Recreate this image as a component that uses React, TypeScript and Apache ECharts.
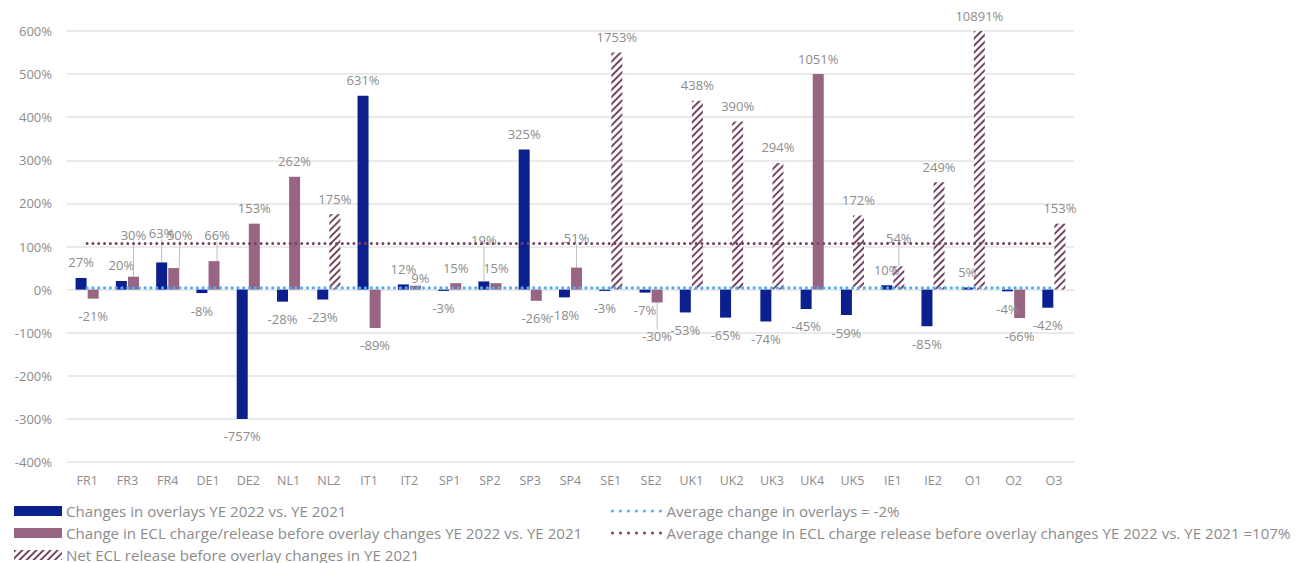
import React, { useEffect, useRef } from "react";
import * as echarts from "echarts";

const categories = ["FR1", "FR3", "FR4", "DE1", "DE2", "NL1", "NL2", "IT1", "IT2", "SP1", "SP2", "SP3", "SP4", "SE1", "SE2", "UK1", "UK2", "UK3", "UK4", "UK5", "IE1", "IE2", "O1", "O2", "O3"];

// Changes in overlays: printed labels and drawn (axis-capped) heights
const overlayLabels = [27, 20, 63, -8, -757, -28, -23, 631, 12, -3, 19, 325, -18, -3, -7, -53, -65, -74, -45, -59, 10, -85, 5, -4, -42];
const overlayBars = [27, 20, 63, -8, -300, -28, -23, 450, 12, -3, 19, 325, -18, -3, -7, -53, -65, -74, -45, -59, 10, -85, 5, -4, -42];

// Change in ECL charge/release before overlay changes
const eclLabels = [-21, 30, 50, 66, 153, 262, null, -89, 9, 15, 15, -26, 51, null, -30, null, null, null, 1051, null, null, null, null, -66, null];
const eclBars = [-21, 30, 50, 66, 153, 262, null, -89, 9, 15, 15, -26, 51, null, -30, null, null, null, 500, null, null, null, null, -66, null];

// Net ECL release before overlay changes in YE 2021
const netLabels = [null, null, null, null, null, null, 175, null, null, null, null, null, null, 1753, null, 438, 390, 294, null, 172, 54, 249, 10891, null, 153];
const netBars = [null, null, null, null, null, null, 175, null, null, null, null, null, null, 550, null, 438, 390, 294, null, 172, 54, 249, 600, null, 153];

// Average lines (drawn level)
const avgOverlay = categories.map(() => 4);
const avgEcl = categories.map(() => 107);

const seriesNames = [
  "Changes in overlays YE 2022 vs. YE 2021",
  "Change in ECL charge/release before overlay changes YE 2022 vs. YE 2021",
  "Net ECL release before overlay changes in YE 2021",
  "Average change in overlays = -2%",
  "Average change in ECL charge release before overlay changes YE 2022 vs. YE 2021 =107%",
];

// label nudges [dx, dy] (series index -> data index)
const nudges: Record<number, Record<number, [number, number]>> = {
  0: { 2: [0, -14], 10: [0, -26] },
  1: { 1: [0, -26], 2: [6, -18], 3: [3, -11], 8: [5, 8], 12: [0, -14], 14: [0, 16] },
  2: { 20: [0, -13] },
};

const FONT = "'Open Sans', Roboto, sans-serif";
const GREY = "#8c8c8c";

function items(bars: (number | null)[], labels: (number | null)[], s: number) {
  return bars.map((v, i) => {
    if (v == null) return null;
    const pos = v >= 0;
    return {
      value: v,
      label: {
        position: pos ? "top" : "bottom",
        distance: pos ? 9 : 11,
        formatter: `${labels[i]}%`,
      },
      labelLine: { show: !!(nudges[s] && nudges[s][i]) },
    };
  });
}

export default function App() {
  const ref = useRef<HTMLDivElement>(null);
  useEffect(() => {
    document.body.style.margin = "0";
    const chart = echarts.init(ref.current!, undefined, { renderer: "svg" });
    const labelCommon = {
      show: true,
      color: GREY,
      fontSize: 13,
      fontFamily: FONT,
    };
    const labelLine = { show: false, lineStyle: { color: "#bfbfbf", width: 1 } };
    const labelLayout = (p: any) => {
      const n = nudges[p.seriesIndex] && nudges[p.seriesIndex][p.dataIndex];
      return n ? { dx: n[0], dy: n[1] } : {};
    };
    const legendText = { color: GREY, fontSize: 15.1, fontFamily: FONT, lineHeight: 14, padding: [0, 0, 0, -1] };
    chart.setOption({
      animation: false,
      grid: { left: 67, right: 227, top: 31, bottom: 101, containLabel: false },
      legend: [
        {
          orient: "vertical",
          left: 14,
          top: 503.5,
          padding: 0,
          height: 70,
          icon: "rect",
          itemWidth: 48,
          itemHeight: 10,
          itemGap: 7,
          data: seriesNames.slice(0, 3),
          selectedMode: false,
          textStyle: legendText,
        },
        {
          orient: "vertical",
          left: 611,
          top: 503.5,
          padding: 0,
          height: 70,
          itemWidth: 50,
          itemHeight: 10,
          itemGap: 7,
          itemStyle: { opacity: 0 },
          lineStyle: { width: 3, type: [0, 8] },
          data: seriesNames.slice(3),
          selectedMode: false,
          textStyle: legendText,
        },
      ],
      xAxis: {
        type: "category",
        data: categories,
        position: "bottom",
        axisLine: { show: false, onZero: false },
        axisTick: { show: false },
        axisLabel: { color: GREY, fontSize: 12.5, fontFamily: FONT, margin: 12 },
      },
      yAxis: {
        type: "value",
        min: -400,
        max: 600,
        interval: 100,
        axisLabel: { color: GREY, fontSize: 13, fontFamily: FONT, margin: 15, formatter: "{value}%" },
        splitLine: { lineStyle: { color: "#e3e3e3", width: 1.5 } },
        axisLine: { show: false },
        axisTick: { show: false },
      },
      series: [
        {
          name: seriesNames[0],
          type: "bar",
          stack: "a",
          barWidth: 11,
          barGap: "10%",
          itemStyle: { color: "#0b1f8e" },
          label: labelCommon,
          labelLine,
          labelLayout,
          data: items(overlayBars, overlayLabels, 0),
        },
        {
          name: seriesNames[1],
          type: "bar",
          stack: "b",
          barWidth: 11,
          barGap: "10%",
          itemStyle: { color: "#986582" },
          label: labelCommon,
          labelLine,
          labelLayout,
          data: items(eclBars, eclLabels, 1),
        },
        {
          name: seriesNames[2],
          type: "bar",
          stack: "b",
          barWidth: 11,
          barGap: "10%",
          itemStyle: {
            color: "#ffffff",
            decal: {
              symbol: "rect",
              symbolSize: 1,
              color: "#764764",
              dashArrayX: [1, 0],
              dashArrayY: [1.1, 2.4],
              rotation: -Math.PI / 4,
            },
          },
          label: labelCommon,
          labelLine,
          labelLayout,
          data: items(netBars, netLabels, 2),
        },
        {
          name: seriesNames[3],
          type: "line",
          data: avgOverlay,
          symbol: "none",
          lineStyle: { color: "#55aaf2", width: 3.2, type: [0, 5.8], cap: "round" },
          itemStyle: { color: "#55aaf2" },
          z: 5,
        },
        {
          name: seriesNames[4],
          type: "line",
          data: avgEcl,
          symbol: "none",
          lineStyle: { color: "#7b3f63", width: 3, type: [0, 5.8], cap: "round" },
          itemStyle: { color: "#7b3f63" },
          z: 5,
        },
      ],
    });
    return () => chart.dispose();
  }, []);
  return <div ref={ref} style={{ width: 1301, height: 563 }} />;
}
